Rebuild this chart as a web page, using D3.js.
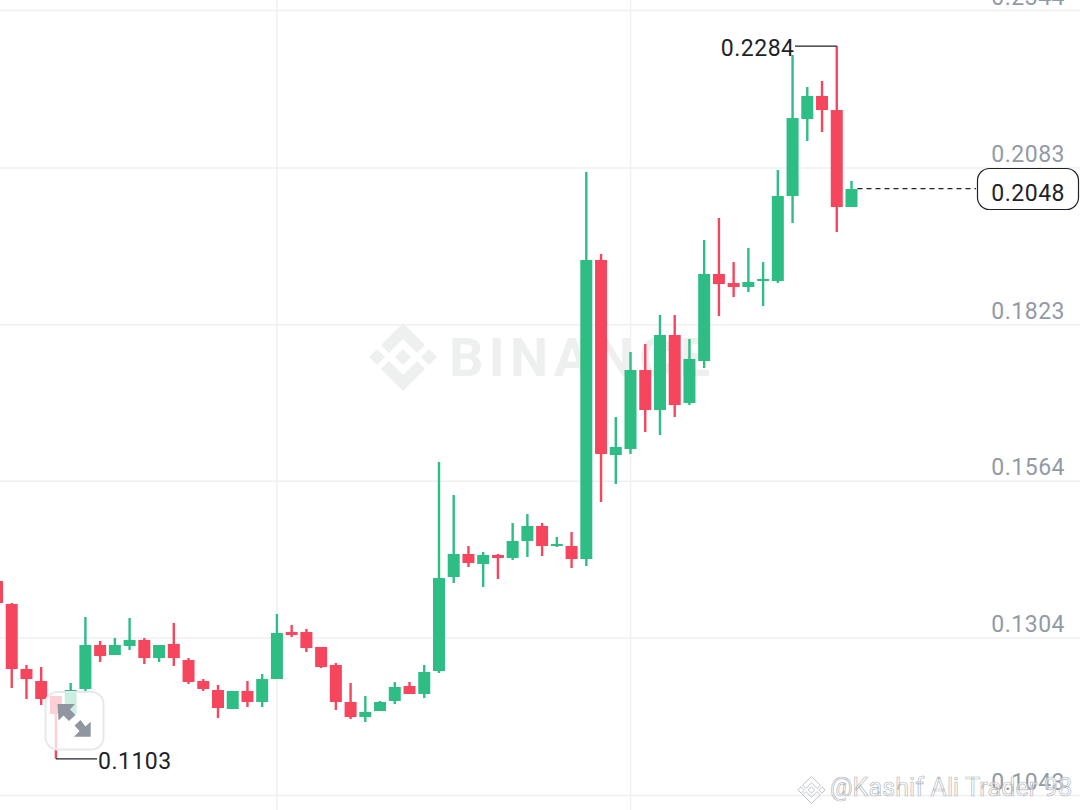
<!DOCTYPE html>
<html><head><meta charset="utf-8">
<script src="https://cdnjs.cloudflare.com/ajax/libs/d3/7.8.5/d3.min.js"></script>
<style>html,body{margin:0;padding:0;background:#fff;overflow:hidden}svg{display:block}text{font-family:Roboto,sans-serif}</style>
</head><body><svg id="c" width="1080" height="810"></svg>
<script>
const opens=[.13977,.13595,.12518,.12319,.12071,.11772,.12187,.12916,.12750,.12899,.12999,.12700,.12933,.12667,.12319,.12170,.11855,.12154,.11971,.12352,.13131,.13131,.12883,.12585,.11971,.11723,.11822,.11988,.12236,.12104,.12485,.14043,.14424,.14258,.14408,.14358,.14640,.14888,.14557,.14557,.14341,.19297,.16065,.16164,.17473,.16811,.18054,.16927,.17623,.19065,.18915,.18849,.18949,.18949,.20357,.21633,.22015,.21782,.20175];
const highs=[.13977,.13612,.12585,.12551,.12071,.12286,.13380,.12982,.13032,.13363,.13032,.12916,.13281,.12700,.12352,.12253,.12154,.12319,.12435,.13430,.13247,.13181,.12883,.12618,.12286,.12071,.11988,.12303,.12303,.12585,.15949,.15402,.14557,.14457,.14424,.14938,.15087,.14938,.14706,.14789,.20755,.19396,.16695,.17772,.17904,.18385,.18385,.17987,.19628,.19993,.19263,.19495,.19263,.20788,.22694,.22164,.22263,.22843,.20606];
const lows=[.13612,.12203,.12021,.11922,.11030,.11772,.12154,.12634,.12750,.12833,.12601,.12634,.12568,.12270,.12154,.11706,.11855,.11888,.11888,.12352,.13049,.12800,.12535,.11839,.11690,.11640,.11822,.11938,.12104,.12038,.12452,.13943,.14209,.13877,.14010,.14325,.14374,.14391,.14540,.14192,.14225,.15286,.15584,.16081,.16446,.16396,.16695,.16893,.17507,.18368,.18683,.18766,.18534,.18915,.19910,.21269,.21418,.19761,.20175];
const closes=[.13612,.12518,.12352,.12021,.11772,.12170,.12916,.12734,.12916,.12999,.12700,.12916,.12700,.12303,.12187,.11872,.12154,.11971,.12352,.13115,.13082,.12866,.12551,.11971,.11723,.11806,.11971,.12220,.12104,.12468,.14026,.14424,.14275,.14408,.14358,.14640,.14888,.14557,.14590,.14341,.19297,.16081,.16197,.17473,.16811,.18054,.16893,.17656,.19065,.18899,.18849,.18932,.18982,.20357,.21650,.22015,.21782,.20175,.20473];
const priceTicks=[.1043,.1304,.1564,.1823,.2083,.2344];
const timeGridCandles=[19,43];
const lastPrice=.2048, highPrice=.2284, lowPrice=.1103;
const highIndex=57, lowIndex=4, lastIndex=58;
const watermarkWord="BINANCE", creditText="@Kashif Ali Trader 98";

const UP="#2ebd85",DOWN="#f6465d",GRID="#eff0f2",TICK="#929aa5",INK="#1e2329";
const svg=d3.select("#c");
const y=d3.scaleLinear().domain([.1043,.2344]).range([795,10]);
const x=d3.scaleLinear().domain([0,58]).range([-3,851.5]);
const candles=opens.map((o,i)=>({i,o,h:highs[i],l:lows[i],c:closes[i],up:closes[i]>=o}));
const labelStyle=s=>s.attr("font-size",23).attr("letter-spacing",.5);

// grid + price axis
const axis=d3.axisRight(y).tickValues(priceTicks).tickSize(1080).tickFormat(d3.format(".4f"));
const ag=svg.append("g").call(axis);
ag.select(".domain").remove();
ag.selectAll("line").attr("stroke",GRID).attr("stroke-width",1.5);
ag.selectAll("text").attr("x",1065).attr("dy",null).attr("y",-6).attr("text-anchor","end")
  .attr("fill",TICK).style("font-family","Roboto,sans-serif").call(labelStyle);
svg.append("g").selectAll("line").data(timeGridCandles).join("line")
  .attr("x1",d=>x(d)).attr("x2",d=>x(d)).attr("y1",0).attr("y2",810)
  .attr("stroke",GRID).attr("stroke-width",1.5);

// watermark
function logo(g,cx,cy,s,attrs){
  const diamond=(dx,dy,r)=>`M${cx+dx*s},${cy+(dy-r)*s}L${cx+(dx+r)*s},${cy+dy*s}L${cx+dx*s},${cy+(dy+r)*s}L${cx+(dx-r)*s},${cy+dy*s}Z`;
  const chev=(dir)=>`M${cx},${cy+dir*34*s}L${cx+22*s},${cy+dir*12*s}L${cx+14*s},${cy+dir*4*s}L${cx},${cy+dir*18*s}L${cx-14*s},${cy+dir*4*s}L${cx-22*s},${cy+dir*12*s}Z`;
  const p=g.append("path").attr("d",[diamond(0,0,8),diamond(-26,0,8),diamond(26,0,8),chev(-1),chev(1)].join(""));
  Object.entries(attrs).forEach(([k,v])=>p.attr(k,v));
}
logo(svg.append("g"),403,357,1,{fill:"#eeefef"});
svg.append("text").attr("x",449).attr("y",376).text(watermarkWord)
  .attr("font-size",54).attr("font-weight",700).attr("textLength",261).attr("lengthAdjust","spacing").attr("fill","#eeefef");

// candles
const cg=svg.append("g").selectAll("g").data(candles).join("g");
cg.append("line").attr("x1",d=>x(d.i)).attr("x2",d=>x(d.i))
  .attr("y1",d=>y(d.h)).attr("y2",d=>y(d.l))
  .attr("stroke",d=>d.up?UP:DOWN).attr("stroke-width",2.4);
cg.append("rect").attr("x",d=>x(d.i)-6).attr("width",12)
  .attr("y",d=>y(Math.max(d.o,d.c)))
  .attr("height",d=>Math.max(1,Math.abs(y(d.o)-y(d.c))))
  .attr("fill",d=>d.up?UP:DOWN);

// high / low markers
svg.append("line").attr("x1",795).attr("x2",x(highIndex)).attr("y1",y(highPrice)).attr("y2",y(highPrice)).attr("stroke",INK).attr("stroke-width",1.2);
svg.append("text").attr("x",794.5).attr("y",y(highPrice)+9.5).attr("text-anchor","end").attr("fill",INK).call(labelStyle).text(highPrice.toFixed(4));
svg.append("line").attr("x1",x(lowIndex)).attr("x2",97).attr("y1",y(lowPrice)).attr("y2",y(lowPrice)).attr("stroke",INK).attr("stroke-width",1.2);
svg.append("text").attr("x",98).attr("y",y(lowPrice)+10).attr("fill",INK).call(labelStyle).text(lowPrice.toFixed(4));

// last price
svg.append("line").attr("x1",x(lastIndex)+6).attr("x2",976).attr("y1",y(lastPrice)).attr("y2",y(lastPrice))
  .attr("stroke",INK).attr("stroke-width",1.2).attr("stroke-dasharray","5 4");
svg.append("rect").attr("x",977.5).attr("y",168.5).attr("width",101).attr("height",41).attr("rx",12)
  .attr("fill","#fff").attr("stroke",INK).attr("stroke-width",1.2);
svg.append("text").attr("x",1065).attr("y",201).attr("text-anchor","end").attr("fill",INK).call(labelStyle).text(lastPrice.toFixed(4));

// expand button
svg.append("rect").attr("x",45.5).attr("y",692).attr("width",58).attr("height",57.5).attr("rx",12)
  .attr("fill","#fff").attr("fill-opacity",.75).attr("stroke","#e6e8ea").attr("stroke-width",2);
svg.append("path").attr("fill","#8f969f")
  .attr("d","M57.5,704H75L70,709.5L75.5,715L69,721L63.5,715.5L58.5,720.5Z M90.7,721.7V736.7H74L79.5,731L74.5,725.5L80.5,720L85.5,726.5Z");

// credit
logo(svg.append("g"),811.5,790,.4,{fill:"none",stroke:"#b8bdc4","stroke-width":.9});
svg.append("text").attr("x",830).attr("y",795.5).text(creditText)
  .attr("font-size",25).attr("textLength",242).attr("lengthAdjust","spacing")
  .attr("fill","#fff").attr("fill-opacity",.55).attr("stroke","#b4b9c0").attr("stroke-width",.7);
</script></body></html>
